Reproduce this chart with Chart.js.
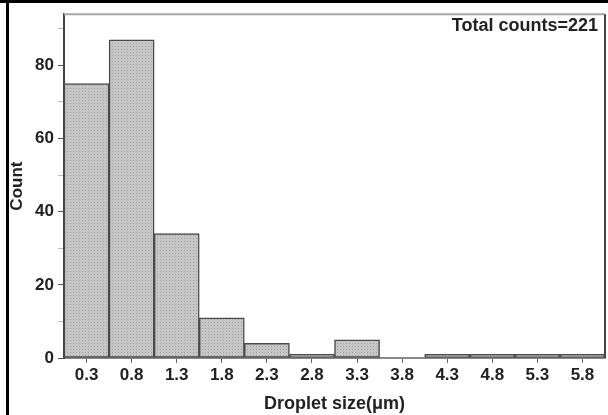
<!DOCTYPE html>
<html>
<head>
<meta charset="utf-8">
<script src="https://cdn.jsdelivr.net/npm/chart.js@4/dist/chart.umd.min.js"></script>
<style>
html,body{margin:0;padding:0;background:#fff;}
#wrap{position:relative;width:608px;height:415px;overflow:hidden;}
#frameL{position:absolute;left:6px;top:0;width:3px;height:415px;background:#000;}
#frameT{position:absolute;left:0;top:0;width:608px;height:3px;background:#000;}
canvas{position:absolute;left:0;top:0;}
</style>
</head>
<body>
<div id="wrap">
<canvas id="c" width="608" height="415"></canvas>
<div id="frameL"></div>
<div id="frameT"></div>
</div>
<script>
const categories = ['0.3','0.8','1.3','1.8','2.3','2.8','3.3','3.8','4.3','4.8','5.3','5.8'];
const counts = [75, 87, 34, 11, 4, 1, 5, 0, 1, 1, 1, 1];
const yMajorTicks = [0, 20, 40, 60, 80];
const annotationText = 'Total counts=221';
const xTitle = 'Droplet size(\u03bcm)';
const yTitle = 'Count';

const FONT = "'Liberation Sans', Arial, sans-serif";

function makePattern(){
  const p = document.createElement('canvas');
  p.width = 3; p.height = 3;
  const g = p.getContext('2d');
  g.fillStyle = '#c6c6c6';
  g.fillRect(0,0,3,3);
  g.fillStyle = '#a2a2a2';
  g.fillRect(1,1,1,1);
  return document.getElementById('c').getContext('2d').createPattern(p,'repeat');
}

const framePlugin = {
  id: 'frame',
  afterDraw(chart){
    const {ctx, chartArea:a} = chart;
    ctx.save();
    ctx.strokeStyle = '#a8a8a8';
    ctx.lineWidth = 2;
    ctx.beginPath();
    ctx.moveTo(a.left, a.top); ctx.lineTo(a.right, a.top);
    ctx.stroke();
    ctx.strokeStyle = '#444';
    ctx.lineWidth = 2;
    ctx.beginPath();
    ctx.moveTo(a.right, a.top); ctx.lineTo(a.right, a.bottom);
    ctx.stroke();
    ctx.fillStyle = '#222';
    ctx.font = 'bold 18px ' + FONT;
    ctx.textAlign = 'right';
    ctx.textBaseline = 'middle';
    ctx.fillText(annotationText, a.right - 7, a.top + 12);
    ctx.restore();
  }
};

new Chart(document.getElementById('c'), {
  type: 'bar',
  data: {
    labels: categories,
    datasets: [{
      data: counts,
      backgroundColor: makePattern(),
      borderColor: '#4a4a4a',
      borderWidth: 1.5,
      borderSkipped: false,
      barPercentage: 1,
      categoryPercentage: 1
    }]
  },
  options: {
    responsive: false,
    animation: false,
    devicePixelRatio: 1,
    layout: { padding: { top: 11, right: 3, left: 0, bottom: 0 } },
    plugins: { legend: { display: false }, tooltip: { enabled: false } },
    scales: {
      x: {
        grid: { offset: false, drawOnChartArea: false, drawTicks: true, tickLength: 5, color: '#666', lineWidth: 1 },
        border: { display: true, color: '#888', width: 2 },
        ticks: { color: '#222', font: { family: FONT, size: 17, weight: 'bold' }, padding: 2, maxRotation: 0, autoSkip: false },
        title: { display: true, text: xTitle, color: '#222', font: { family: FONT, size: 18, weight: 'bold' }, padding: { top: 0, bottom: 0 } },
        afterFit(s){ s.height = 57; }
      },
      y: {
        min: 0, max: 94,
        grid: { drawOnChartArea: false, drawTicks: true, tickLength: 6,
          color: (c) => (c.tick && yMajorTicks.includes(c.tick.value)) ? '#555' : '#bbb' },
        border: { display: true, color: '#444', width: 2 },
        ticks: { stepSize: 10, includeBounds: false, color: '#222', padding: 4,
          font: { family: FONT, size: 17, weight: 'bold' },
          callback: (v) => yMajorTicks.includes(v) ? String(v) : '' },
        title: { display: true, text: yTitle, color: '#222', font: { family: FONT, size: 17, weight: 'bold' }, padding: { top: 7, bottom: 0 } },
        afterFit(s){ s.width = 64; }
      }
    }
  },
  plugins: [framePlugin]
});
</script>
</body>
</html>
